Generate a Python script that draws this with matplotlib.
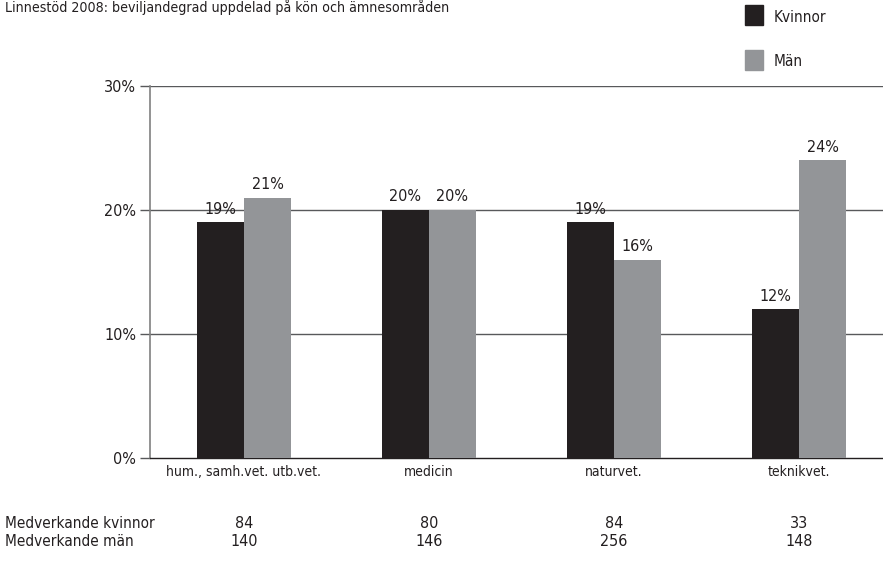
import matplotlib.pyplot as plt
import matplotlib.transforms as mtransforms
from matplotlib.patches import Rectangle
import numpy as np

plt.rcParams['font.family'] = ['DejaVu Sans']
plt.rcParams['font.stretch'] = 'condensed'

categories = ['hum., samh.vet. utb.vet.', 'medicin', 'naturvet.', 'teknikvet.']
kvinnor = [19, 20, 19, 12]
man = [21, 20, 16, 24]
medv_kvinnor = [84, 80, 84, 33]
medv_man = [140, 146, 256, 148]

c_k = '#231f20'
c_m = '#939598'

fig = plt.figure(figsize=(8.83, 5.64), dpi=100)
ax = fig.add_axes([150 / 883, 1 - 458 / 564, 1 - 150 / 883, (458 - 86) / 564])

x = np.arange(len(categories))
w = 0.254
b1 = ax.bar(x - w / 2, kvinnor, w, color=c_k, zorder=3)
b2 = ax.bar(x + w / 2, man, w, color=c_m, zorder=3)
for bars, vals in ((b1, kvinnor), (b2, man)):
    for b, v in zip(bars, vals):
        ax.text(b.get_x() + b.get_width() / 2, v + 0.45, f'{v}%', ha='center',
                va='bottom', fontsize=11.5, color='#231f20', zorder=4)

ax.set_xlim(-0.508, 3.454)
ax.set_ylim(0, 30)
ax.set_yticks([0, 10, 20, 30])
ax.set_yticklabels([f'{t}%' for t in [0, 10, 20, 30]], fontsize=11.5, color='#231f20')
for t in [10, 20, 30]:
    ax.axhline(t, color='#58595b', lw=1.0, zorder=1)
ax.tick_params(axis='y', length=7, width=1.0, color='#58595b', pad=3)
ax.set_xticks(x)
ax.set_xticklabels(categories, fontsize=10, color='#231f20')
ax.tick_params(axis='x', length=0, pad=5)
for s in ['top', 'right']:
    ax.spines[s].set_visible(False)
ax.spines['left'].set_color('#808080')
ax.spines['left'].set_linewidth(1.2)
ax.spines['bottom'].set_color('#231f20')
ax.spines['bottom'].set_linewidth(1.0)

trans = mtransforms.blended_transform_factory(ax.transData, fig.transFigure)
fig.text(5 / 883, 1 - 523 / 564, 'Medverkande kvinnor', fontsize=11, va='center', color='#231f20')
fig.text(5 / 883, 1 - 542 / 564, 'Medverkande män', fontsize=11, va='center', color='#231f20')
for xi, k, m in zip(x, medv_kvinnor, medv_man):
    ax.text(xi, 1 - 523 / 564, str(k), transform=trans, ha='center', va='center', fontsize=11.5, color='#231f20')
    ax.text(xi, 1 - 542 / 564, str(m), transform=trans, ha='center', va='center', fontsize=11.5, color='#231f20')

fig.text(5 / 883, 1 - 7 / 564, 'Linnestöd 2008: beviljandegrad uppdelad på kön och ämnesområden',
         fontsize=10.2, va='center', color='#231f20')

# legend
for yy, col, lab in ((15, c_k, 'Kvinnor'), (60, c_m, 'Män')):
    fig.patches.append(Rectangle((745 / 883, 1 - (yy + 10) / 564), 18 / 883, 20 / 564,
                                 transform=fig.transFigure, color=col))
    fig.text(774 / 883, 1 - (yy + 2) / 564, lab, fontsize=11, va='center', color='#231f20')

fig.savefig('out.png', dpi=100)
